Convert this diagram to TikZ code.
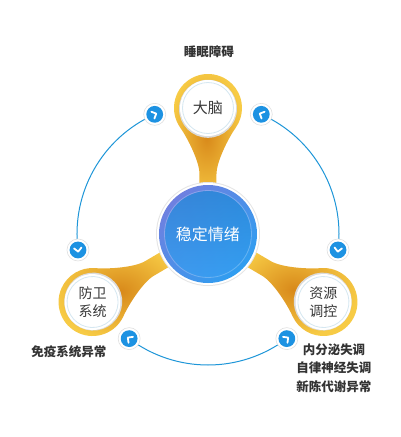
\documentclass[tikz,border=0pt]{standalone}
\usepackage{fontspec}
\setmainfont{Noto Sans CJK SC}
\definecolor{goldL}{HTML}{F7CB45}
\definecolor{goldD}{HTML}{D8891A}
\definecolor{lineblue}{HTML}{1E96D8}
\definecolor{iconblue}{HTML}{1D92E2}
\definecolor{txt}{HTML}{333333}
\definecolor{coreA}{HTML}{6F80E0}
\definecolor{coreB}{HTML}{2F9EF0}
\definecolor{coreC}{HTML}{1E88D6}
\definecolor{coreD}{HTML}{3A9EF2}
\definecolor{rimblue}{HTML}{D5E7F1}
\tikzset{
  bluearc/.style={draw=lineblue, line width=1pt},
  iconbase/.style={circle, fill=white, draw=black!12, line width=0.6pt, minimum size=22pt, inner sep=0pt},
  chev/.style={draw=white, line width=1.8pt, line cap=round, line join=round},
  ringtext/.style={text=black!78, font=\fontsize{14}{18}\selectfont, align=center, inner sep=0pt},
  label/.style={text=txt, font=\fontsize{12.5}{18.5}\selectfont\bfseries, align=center, inner sep=0pt},
}
\newcommand\goldarm[2]{%
  \begin{scope}[rotate=#1-90]
    \shade[inner color=goldD, outer color=goldL]
      (-8.5,30) -- (-8.5,{#2-66})
      .. controls (-8.5,{#2-54}) and (-19.8,{#2-31}) .. ({34*cos(215)},{#2+34*sin(215)})
      arc[start angle=215, end angle=-35, radius=34]
      .. controls (19.8,{#2-31}) and (8.5,{#2-54}) .. (8.5,{#2-66})
      -- (8.5,30) -- cycle;
    \fill[black!14] (0,{#2-0.8}) circle (29);
    \fill[white] (0,#2) circle (28);
    \draw[rimblue, line width=0.8pt] (0,#2) circle (25.5);
  \end{scope}}
\newcommand\iconat[3]{%
  \node[iconbase] (#1) at (#2:131) {};
  \fill[iconblue] (#1) circle (8.4);
  \draw[chev, shift={(#1.center)}, rotate=#3] (-2,3.7) -- (1.7,0) -- (-2,-3.7);}
\begin{document}
\begin{tikzpicture}[x=1pt,y=1pt]
\useasboundingbox (-208,-203) rectangle (192,234);
\fill[white] (-208,-203) rectangle (192,234);
\coordinate (c) at (0,0);
% blue ring arcs
\draw[bluearc] (c) ++(114:131) arc[start angle=114, end angle=187, radius=131];
\draw[bluearc] (c) ++(233:131) arc[start angle=233, end angle=307, radius=131];
\draw[bluearc] (c) ++(353:131) arc[start angle=353, end angle=426, radius=131];
% icons
\iconat{i1}{114}{24}
\iconat{i2}{66}{156}
\iconat{i3}{187}{277}
\iconat{i4}{353}{263}
\iconat{i5}{233}{143}
\iconat{i6}{307}{37}
% gold arms
\goldarm{90}{126}
\goldarm{210.5}{134}
\goldarm{329.5}{134}
% centre circle
\fill[black!10] (c) circle (52);
\fill[white] (c) circle (51);
\shade[left color=coreA, right color=coreB, shading angle=45] (c) circle (49);
\shade[top color=coreC, bottom color=coreD, fill opacity=0.7] (c) circle (43);
\draw[white, opacity=0.25, line width=0.8pt] (c) circle (43.5);
\node[text=white, font=\fontsize{16}{18}\selectfont, inner sep=0pt] (core) at (c) {稳定情绪};
% arm texts
\node[ringtext, font=\fontsize{15}{18}\selectfont] (brain) at (90:126) {大脑};
\node[ringtext] (defend) at (210.5:134) {防卫\\系统};
\node[ringtext] (resource) at (329.5:134) {资源\\调控};
% labels
\node[label] (l1) at (1,182) {睡眠障碍};
\node[label] (l2) at (-139,-118) {免疫系统异常};
\node[label] (l3) at (126,-134) {内分泌失调\\自律神经失调\\新陈代谢异常};
\end{tikzpicture}
\end{document}
